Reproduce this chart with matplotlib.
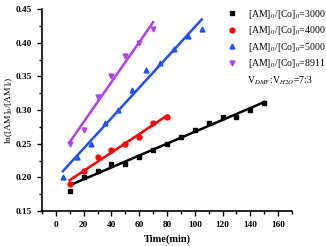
import numpy as np
import matplotlib.pyplot as plt
from matplotlib.ticker import MultipleLocator

# data
t_3000 = [10, 20, 30, 40, 50, 60, 70, 80, 90, 100, 110, 120, 130, 140, 150]
y_3000 = [0.18, 0.20, 0.21, 0.22, 0.22, 0.23, 0.24, 0.25, 0.26, 0.27, 0.28, 0.29, 0.29, 0.30, 0.31]
t_4000 = [10, 20, 30, 40, 50, 60, 70, 80]
y_4000 = [0.19, 0.21, 0.23, 0.24, 0.25, 0.26, 0.28, 0.29]
t_5000 = [5, 15, 25, 35, 45, 55, 65, 75, 85, 95, 105]
y_5000 = [0.20, 0.23, 0.25, 0.28, 0.30, 0.33, 0.36, 0.37, 0.39, 0.41, 0.42]
t_8911 = [10, 20, 30, 40, 50, 60, 70]
y_8911 = [0.25, 0.27, 0.32, 0.35, 0.38, 0.40, 0.42]

labels = ['[AM]$_0$/[Co]$_0$=3000', '[AM]$_0$/[Co]$_0$=4000',
          '[AM]$_0$/[Co]$_0$=5000', '[AM]$_0$/[Co]$_0$=8911']
colors = ['black', '#ff0000', '#1f4fff', '#b040ee']
markers = ['s', 'o', '^', 'v']

plt.rcParams['font.family'] = 'Liberation Serif'
plt.rcParams['mathtext.fontset'] = 'stix'

W, H = 326, 246
fig = plt.figure(figsize=(W / 100, H / 100), dpi=100)
ax = fig.add_axes([42 / W, 35 / H, 250 / W, 202 / H])

series = [(t_3000, y_3000), (t_4000, y_4000), (t_5000, y_5000), (t_8911, y_8911)]
for (t, y), c, m, lab in zip(series, colors, markers, labels):
    t = np.array(t)
    ax.plot(t, y, m, color=c, ms=3.5, label=lab, ls='none')
    k, b = np.polyfit(t, y, 1)
    ax.plot(t, k * t + b, '-', color=c, lw=1.8)

ax.set_xlim(-10, 170)
ax.set_ylim(0.15, 0.45)
ax.xaxis.set_major_locator(MultipleLocator(20))
ax.xaxis.set_minor_locator(MultipleLocator(10))
ax.yaxis.set_major_locator(MultipleLocator(0.05))
ax.yaxis.set_minor_locator(MultipleLocator(0.025))
ax.yaxis.set_major_formatter(plt.FormatStrFormatter('%.2f'))
ax.spines['top'].set_visible(False)
ax.spines['right'].set_visible(False)
ax.spines['left'].set_linewidth(1.2)
ax.spines['bottom'].set_linewidth(1.2)
ax.tick_params(which='both', direction='out', width=1)
ax.tick_params(which='major', length=3.5, labelsize=6.7)
ax.tick_params(which='minor', length=2)
for lbl in ax.get_xticklabels() + ax.get_yticklabels():
    lbl.set_fontweight('bold')

ax.set_xlabel('Time(min)', fontsize=7.5, fontweight='bold', labelpad=4)
ax.set_ylabel('ln([AM]$_0$/[AM]$_t$)', fontsize=6.8, labelpad=0.5)

ax.legend(loc='upper left', bbox_to_anchor=(222 / W, 1 - 3 / H), bbox_transform=fig.transFigure,
          frameon=False, fontsize=7, borderpad=0, handlelength=1,
          handletextpad=1.15, labelspacing=0.36)
fig.text(280 / W, 1 - 81 / H, 'V$_{DMF}$:V$_{H2O}$=7:3', fontsize=7,
         ha='center', va='center')

fig.savefig('out.png', dpi=100)
